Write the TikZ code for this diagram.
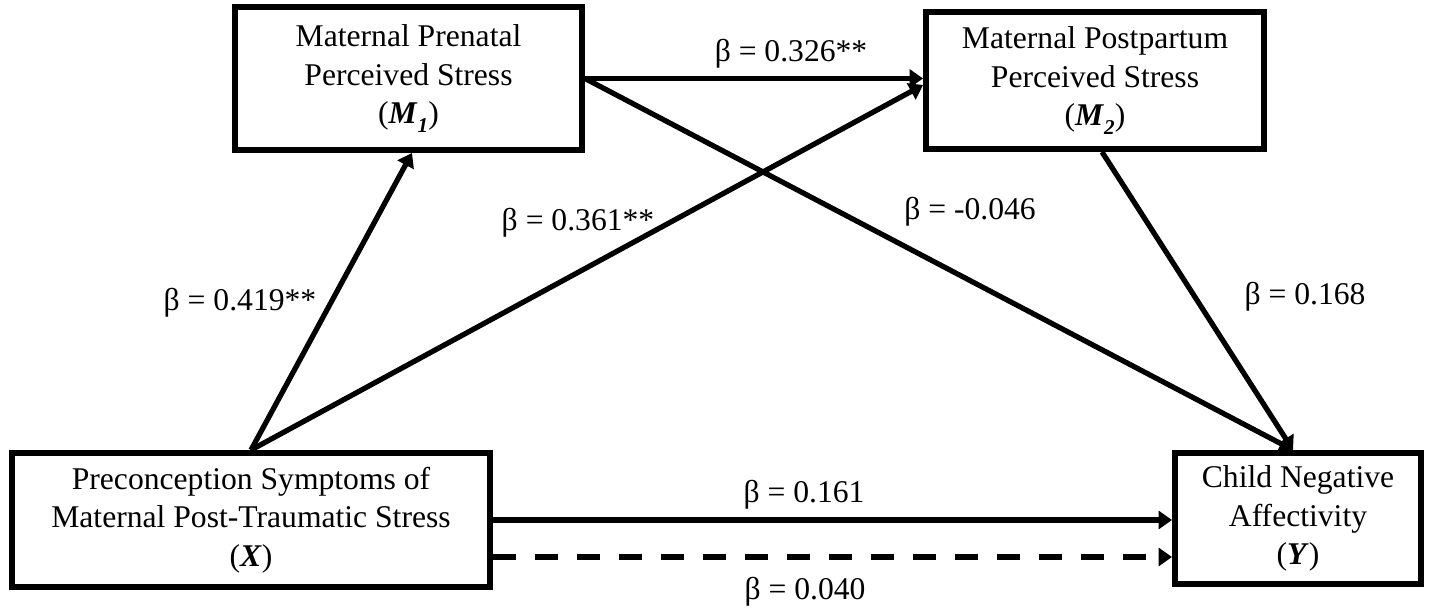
\documentclass[tikz,border=0pt]{standalone}
\usepackage{fontspec}
\setmainfont{Liberation Serif}
\usetikzlibrary{arrows.meta,calc}
\newcommand{\bi}[1]{\textbf{\textit{#1}}}
\newcommand{\lowsub}[1]{\raisebox{-0.28em}{\fontsize{12}{12}\selectfont\bi{#1}}}
\begin{document}
\begin{tikzpicture}[x=0.02cm,y=-0.02cm,
  box/.style={draw, line width=0.12cm, align=center, inner sep=0pt,
    font=\fontsize{18}{21.8}\selectfont},
  conn/.style={line width=0.105cm, -{Triangle[length=0.27cm,width=0.36cm]}},
  dashconn/.style={conn, dash pattern=on 0.46cm off 0.38cm},
  lbl/.style={font=\fontsize{18}{21.8}\selectfont, inner sep=0pt}]
\useasboundingbox (0,0) rectangle (1432,611);
\node[box, minimum width=6.94cm, minimum height=2.86cm] (M1) at (408.5,78.5)
  {Maternal Prenatal\\Perceived Stress\\(\bi{M}\lowsub{1})};
\node[box, minimum width=6.76cm, minimum height=2.74cm] (M2) at (1095,80.5)
  {Maternal Postpartum\\Perceived Stress\\(\bi{M}\lowsub{2})};
\node[box, minimum width=9.56cm, minimum height=2.68cm] (X) at (251,520)
  {Preconception Symptoms of\\Maternal Post-Traumatic Stress\\(\bi{X})};
\node[box, minimum width=4.92cm, minimum height=2.62cm] (Y) at (1298,518.5)
  {Child Negative\\Affectivity\\(\bi{Y})};

\draw[conn] (X.north) -- ([xshift=0.07cm]M1.south);
\draw[conn] (X.north) -- ([yshift=-0.09cm]M2.west);
\draw[conn] (M1.east) -- (M1.east -| M2.west);
\draw[conn] (M1.east) -- ([xshift=-0.1cm]Y.north);
\draw[conn] ([xshift=0.14cm]M2.south) -- ([xshift=-0.1cm]Y.north);
\draw[conn] (X.east) -- (X.east -| Y.west);
\draw[dashconn] ([yshift=-0.74cm]X.east) -- ([yshift=-0.74cm]X.east -| Y.west);

\node[lbl] (l326) at (791,54) {β = 0.326**};
\node[lbl] (l361) at (578,223) {β = 0.361**};
\node[lbl] (l419) at (240,303) {β = 0.419**};
\node[lbl] (l046) at (970,212) {β = -0.046};
\node[lbl] (l168) at (1305,297) {β = 0.168};
\node[lbl] (l161) at (804,495) {β = 0.161};
\node[lbl] (l040) at (805,592) {β = 0.040};
\end{tikzpicture}
\end{document}
